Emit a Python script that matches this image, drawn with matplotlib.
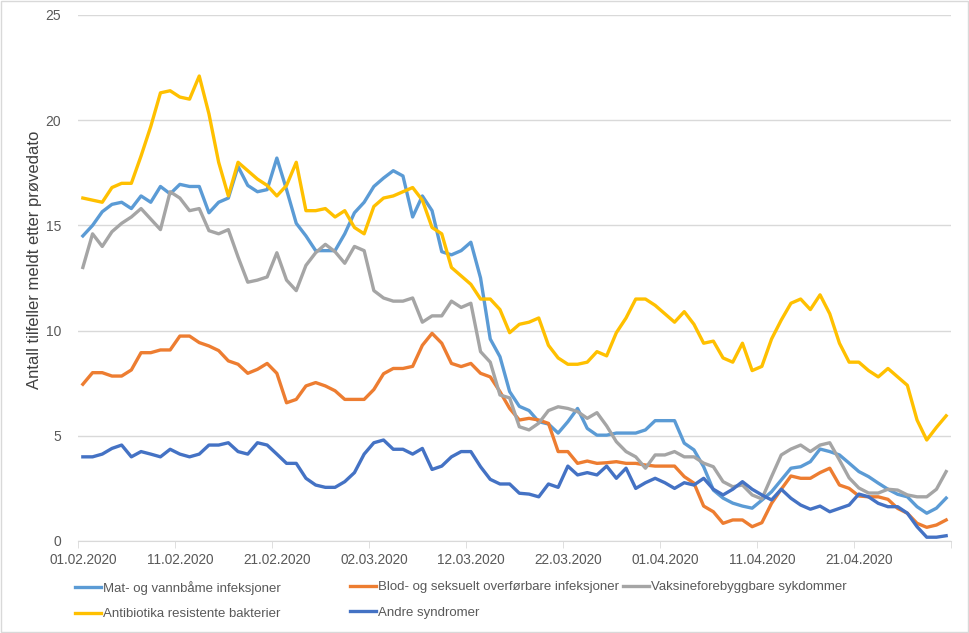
import datetime

import matplotlib
matplotlib.use("Agg")
from matplotlib import pyplot as plt
from matplotlib.patches import Rectangle

plt.rcParams["font.family"] = ["Liberation Sans", "DejaVu Sans"]

# daily values 01.02.2020 - 30.04.2020
start = datetime.date(2020, 2, 1)
n_days = 90
dates = [start + datetime.timedelta(days=i) for i in range(n_days)]
tick_labels = [d.strftime("%d.%m.%Y") for d in dates[::10]]

mat_vann = [14.5, 15.0, 15.65, 16.0, 16.1, 15.8, 16.4, 16.1, 16.85, 16.5,
            16.95, 16.85, 16.85, 15.6, 16.1, 16.3, 17.8, 16.9, 16.6, 16.7,
            18.2, 16.7, 15.1, 14.5, 13.8, 13.8, 13.8, 14.6, 15.6, 16.1,
            16.85, 17.25, 17.6, 17.35, 15.4, 16.4, 15.7, 13.75, 13.6, 13.8,
            14.2, 12.5, 9.6, 8.76, 7.1, 6.4, 6.2, 5.67, 5.56, 5.13,
            5.67, 6.3, 5.35, 5.03, 5.03, 5.13, 5.13, 5.13, 5.28, 5.72,
            5.72, 5.72, 4.65, 4.33, 3.53, 2.42, 2.04, 1.8, 1.66, 1.56,
            1.94, 2.34, 2.9, 3.46, 3.53, 3.77, 4.37, 4.25, 4.09, 3.7,
            3.3, 3.06, 2.75, 2.46, 2.22, 2.1, 1.63, 1.32, 1.56, 2.04]

blod_seksuelt = [7.45, 8.0, 8.0, 7.84, 7.84, 8.13, 8.95, 8.95, 9.08, 9.08,
                 9.74, 9.74, 9.43, 9.27, 9.05, 8.56, 8.4, 7.97, 8.16, 8.44,
                 7.97, 6.57, 6.73, 7.37, 7.53, 7.37, 7.14, 6.73, 6.73, 6.73,
                 7.2, 7.95, 8.2, 8.2, 8.3, 9.3, 9.87, 9.4, 8.44, 8.29,
                 8.44, 7.97, 7.8, 7.1, 6.3, 5.75, 5.83, 5.75, 5.59, 4.25,
                 4.25, 3.69, 3.8, 3.69, 3.72, 3.77, 3.69, 3.69, 3.61, 3.56,
                 3.56, 3.56, 3.06, 2.75, 1.66, 1.39, 0.84, 1.0, 1.0, 0.68,
                 0.87, 1.79, 2.46, 3.09, 2.98, 2.98, 3.25, 3.46, 2.66, 2.5,
                 2.14, 2.1, 2.1, 1.98, 1.55, 1.32, 0.84, 0.65, 0.76, 1.0]

vaksine = [13.0, 14.6, 14.0, 14.7, 15.1, 15.4, 15.8, 15.3, 14.8, 16.6,
           16.3, 15.7, 15.8, 14.75, 14.6, 14.8, 13.5, 12.3, 12.4, 12.55,
           13.7, 12.4, 11.9, 13.1, 13.7, 14.1, 13.75, 13.2, 14.0, 13.8,
           11.9, 11.55, 11.4, 11.4, 11.55, 10.4, 10.7, 10.7, 11.4, 11.1,
           11.3, 9.0, 8.5, 6.94, 6.8, 5.43, 5.28, 5.6, 6.2, 6.38,
           6.3, 6.15, 5.83, 6.1, 5.47, 4.72, 4.25, 4.0, 3.46, 4.09,
           4.09, 4.25, 4.0, 4.0, 3.7, 3.53, 2.82, 2.58, 2.66, 2.19,
           2.0, 3.06, 4.09, 4.37, 4.56, 4.25, 4.56, 4.67, 3.85, 3.0,
           2.52, 2.28, 2.28, 2.46, 2.42, 2.19, 2.1, 2.1, 2.46, 3.3]

antibiotika = [16.3, 16.2, 16.1, 16.8, 17.0, 17.0, 18.3, 19.7, 21.3, 21.4,
               21.1, 21.0, 22.1, 20.3, 18.0, 16.4, 18.0, 17.6, 17.2, 16.9,
               16.4, 16.9, 18.0, 15.7, 15.7, 15.8, 15.4, 15.7, 14.9, 14.6,
               15.9, 16.3, 16.4, 16.6, 16.8, 16.2, 14.9, 14.6, 13.0, 12.6,
               12.2, 11.5, 11.5, 11.0, 9.9, 10.3, 10.4, 10.6, 9.3, 8.7,
               8.4, 8.4, 8.5, 9.0, 8.8, 9.9, 10.6, 11.5, 11.5, 11.2,
               10.8, 10.4, 10.9, 10.3, 9.4, 9.5, 8.7, 8.5, 9.4, 8.1,
               8.3, 9.6, 10.5, 11.3, 11.5, 11.0, 11.7, 10.8, 9.4, 8.5,
               8.5, 8.1, 7.8, 8.2, 7.8, 7.4, 5.75, 4.8, 5.4, 5.95]

andre = [4.0, 4.0, 4.13, 4.4, 4.56, 4.0, 4.25, 4.13, 4.0, 4.36,
         4.13, 4.0, 4.13, 4.56, 4.56, 4.67, 4.25, 4.13, 4.67, 4.56,
         4.13, 3.69, 3.69, 2.98, 2.66, 2.55, 2.55, 2.82, 3.25, 4.13,
         4.67, 4.8, 4.36, 4.36, 4.13, 4.4, 3.4, 3.56, 4.0, 4.25,
         4.25, 3.53, 2.93, 2.71, 2.71, 2.27, 2.23, 2.1, 2.71, 2.55,
         3.56, 3.14, 3.25, 3.14, 3.56, 2.98, 3.46, 2.5, 2.77, 2.98,
         2.77, 2.5, 2.77, 2.66, 2.98, 2.46, 2.19, 2.46, 2.82, 2.46,
         2.19, 1.95, 2.46, 2.03, 1.71, 1.51, 1.66, 1.39, 1.55, 1.71,
         2.23, 2.1, 1.79, 1.63, 1.63, 1.32, 0.68, 0.18, 0.18, 0.25]

series = [
    ("Mat- og vannbåme infeksjoner", mat_vann, "#5B9BD5"),
    ("Blod- og seksuelt overførbare infeksjoner", blod_seksuelt, "#ED7D31"),
    ("Vaksineforebyggbare sykdommer", vaksine, "#A5A5A5"),
    ("Antibiotika resistente bakterier", antibiotika, "#FFC000"),
    ("Andre syndromer", andre, "#4472C4"),
]

fig = plt.figure(figsize=(9.7, 6.33), dpi=100)
ax = fig.add_axes([78 / 970, 1 - 541 / 633, 873 / 970, 526 / 633])

x = list(range(n_days))
for label, values, color in series:
    ax.plot(x, values, color=color, lw=2.4, label=label, solid_joinstyle="round")

ax.set_xlim(-0.5, n_days - 0.5)
ax.set_ylim(0, 25)
ax.set_yticks(range(0, 26, 5))
ax.set_xticks(x[::10])
ax.set_xticklabels(tick_labels)
ax.set_xticks([i - 0.5 for i in range(0, n_days + 1, 10)], minor=True)

ax.grid(axis="y", color="#d9d9d9", lw=1)
ax.set_axisbelow(True)
for side in ["top", "right", "left"]:
    ax.spines[side].set_visible(False)
ax.spines["bottom"].set_color("#d9d9d9")
ax.tick_params(axis="y", length=0, pad=12, labelsize=10, labelcolor="#595959")
ax.tick_params(axis="x", which="major", length=0, pad=9, labelsize=9.8, labelcolor="#595959")
ax.tick_params(axis="x", which="minor", length=5, color="#d9d9d9")

fig.text(35 / 970, 1 - 260 / 633, "Antall tilfeller meldt etter prøvedato",
         rotation=90, ha="center", va="center", fontsize=12, color="#404040")

# legend laid out like the excel one: equal column widths, filled row by row
handles, labels = ax.get_legend_handles_labels()
col_x = [75, 350, 623]
for c in range(3):
    idx = [i for i in range(len(handles)) if i % 3 == c]
    fig.legend([handles[i] for i in idx], [labels[i] for i in idx],
               loc="upper left", bbox_to_anchor=(col_x[c] / 970, 1 - 581 / 633),
               frameon=False, fontsize=9.5, handlelength=2.0, handletextpad=0.15,
               labelspacing=1.0, borderpad=0, borderaxespad=0, labelcolor="#595959")

fig.patches.append(Rectangle((0.001, 0.001), 0.997, 0.997, transform=fig.transFigure,
                             fill=False, edgecolor="#d9d9d9", lw=1))

fig.savefig("out.png", dpi=100, facecolor="w")
